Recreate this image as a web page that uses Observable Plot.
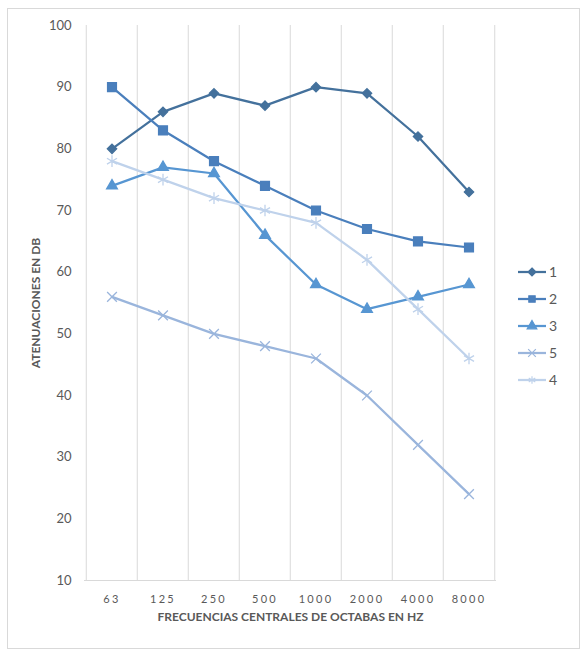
<!DOCTYPE html>
<html>
<head>
<meta charset="utf-8">
<script src="https://cdn.jsdelivr.net/npm/d3@7"></script>
<script src="https://cdn.jsdelivr.net/npm/@observablehq/plot@0.6"></script>
<style>
  body { margin: 0; background: #fff; font-family: Lato, "Open Sans", sans-serif; }
  #frame { position: absolute; left: 7px; top: 8px; width: 571px; height: 639px; border: 1px solid #d9d9d9; background: #fff; }
  #chart { position: absolute; left: 0; top: 0; }
  #legend { position: absolute; left: 505px; top: 255px; }
</style>
</head>
<body>
<div id="frame">
  <div id="chart"></div>
  <svg id="legend" width="60" height="140"></svg>
</div>
<script>
// data
const freqs = ["63", "125", "250", "500", "1000", "2000", "4000", "8000"];
const seriesNames = ["1", "2", "3", "5", "4"];
const s1 = [80, 86, 89, 87, 90, 89, 82, 73];
const s2 = [90, 83, 78, 74, 70, 67, 65, 64];
const s3 = [74, 77, 76, 66, 58, 54, 56, 58];
const s5 = [56, 53, 50, 48, 46, 40, 32, 24];
const s4 = [78, 75, 72, 70, 68, 62, 54, 46];
const yTicks = [10, 20, 30, 40, 50, 60, 70, 80, 90, 100];

// styling
const colors = ["#44719c", "#4a7fbc", "#5796d2", "#9ab5dc", "#bfd2eb"];
const symbols = ["diamond2", "square", "triangle", "times", "asterisk"];
const radii = [4.2, 5, 4, 4.5, 5.5];
const d3symbols = {diamond2: d3.symbolDiamond2, square: d3.symbolSquare, triangle: d3.symbolTriangle, times: d3.symbolTimes, asterisk: d3.symbolAsterisk};
const grey = "#595959";

const values = [s1, s2, s3, s5, s4];
const rows = [];
seriesNames.forEach((name, i) => {
  freqs.forEach((f, j) => rows.push({series: name, freq: f, value: values[i][j]}));
});

const W = 500, ML = 76, MR = 12;
const bw = (W - ML - MR) / freqs.length;

const marks = [
  Plot.ruleX(freqs, {x: d => d, y1: 10, y2: 100, stroke: "#d9d9d9", dx: -bw / 2}),
  Plot.ruleX(freqs.slice(-1), {x: d => d, y1: 10, y2: 100, stroke: "#d9d9d9", dx: bw / 2}),
  Plot.ruleY([10], {stroke: "#d9d9d9"}),
  Plot.text(["ATENUACIONES EN DB"], {frameAnchor: "left", dx: -48, rotate: -90, textAnchor: "middle",
    fontWeight: "bold", fontSize: 12, fill: grey}),
  Plot.text(["FRECUENCIAS CENTRALES DE OCTABAS EN HZ"], {frameAnchor: "bottom", dy: 40, textAnchor: "middle",
    fontWeight: "bold", fontSize: 12, fill: grey})
];
seriesNames.forEach((name, i) => {
  const data = rows.filter(d => d.series === name);
  marks.push(Plot.line(data, {x: "freq", y: "value", stroke: colors[i], strokeWidth: 2.25}));
  marks.push(Plot.dot(data, {x: "freq", y: "value", symbol: symbols[i], r: radii[i],
    fill: colors[i], stroke: colors[i], strokeWidth: 1.3}));
});

const chart = Plot.plot({
  width: W,
  height: 631,
  marginLeft: ML,
  marginRight: MR,
  marginTop: 16,
  marginBottom: 60,
  style: {fontFamily: "Lato, 'Open Sans', sans-serif", fontSize: "13px", color: grey, background: "transparent"},
  x: {type: "band", domain: freqs, padding: 0, tickSize: 0, tickPadding: 15, label: null},
  y: {domain: [10, 100], ticks: yTicks, tickSize: 0, tickPadding: 13, label: null},
  marks
});
d3.select(chart).selectAll("text").filter(function() { return freqs.includes(this.textContent); })
  .style("font-size", "11px").style("letter-spacing", "2.3px");
d3.select("#chart").append(() => chart);

// legend
const lg = d3.select("#legend");
seriesNames.forEach((name, i) => {
  const y = 8 + i * 27;
  const g = lg.append("g").attr("transform", `translate(0,${y})`);
  g.append("line").attr("x1", 5).attr("x2", 33).attr("stroke", colors[i]).attr("stroke-width", 2.25);
  g.append("path").attr("transform", "translate(19,0)")
    .attr("d", d3.symbol(d3symbols[symbols[i]], 40)())
    .attr("fill", colors[i]).attr("stroke", colors[i]).attr("stroke-width", 1.2);
  g.append("text").attr("x", 36).attr("dy", "0.35em").attr("fill", grey)
    .style("font-size", "14px").text(name);
});
</script>
</body>
</html>
